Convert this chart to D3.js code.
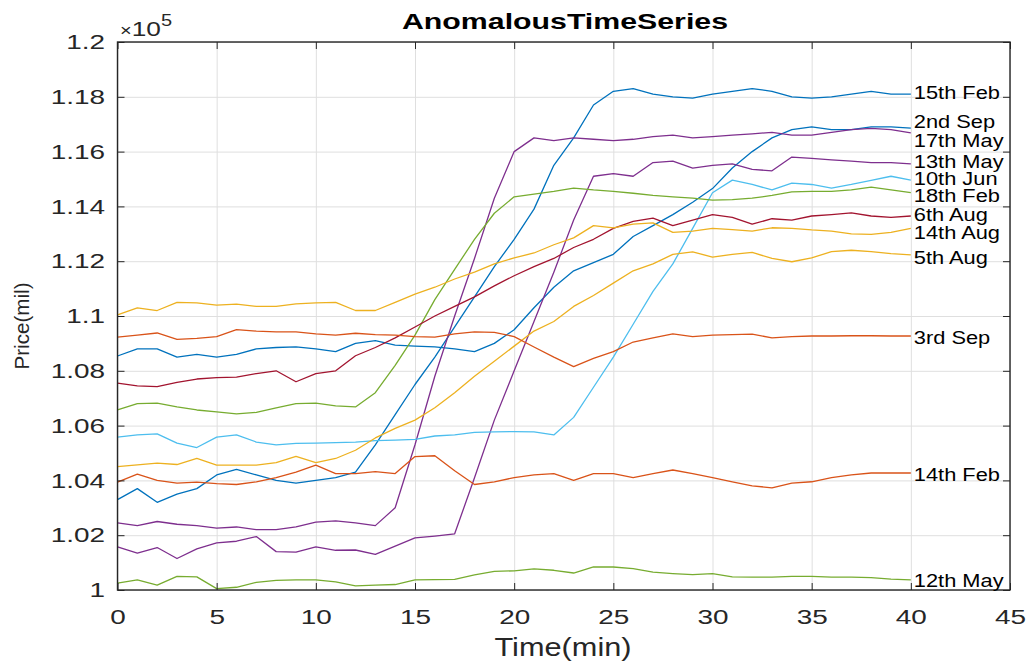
<!DOCTYPE html>
<html>
<head>
<meta charset="utf-8">
<script src="https://d3js.org/d3.v7.min.js"></script>
<style>
  body { margin: 0; background: #fff; }
  text { font-family: "Liberation Sans", Arial, Helvetica, sans-serif; }
</style>
</head>
<body>
<svg class="chart"></svg>
<script>
// time axis (minutes), shared by every series
var time = [0,1,2,3,4,5,6,7,8,9,10,11,12,13,14,15,16,17,18,19,20,
            21,22,23,24,25,26,27,28,29,30,31,32,33,34,35,36,37,38,39,40];

// prices in units of 1e5
var feb15 = [1.033,1.037,1.032,1.035,1.037,1.042,1.044,1.042,1.040,1.039,1.040,1.041,1.043,1.053,1.064,1.075,1.085,1.096,1.107,1.118,1.128,1.139,1.155,1.165,1.177,1.182,1.183,1.181,1.180,1.1795,1.181,1.182,1.183,1.182,1.180,1.1795,1.180,1.181,1.182,1.181,1.181];
var sep2  = [1.0854,1.088,1.088,1.085,1.086,1.085,1.086,1.088,1.0885,1.0887,1.088,1.087,1.090,1.091,1.0894,1.089,1.0887,1.088,1.087,1.090,1.095,1.103,1.1105,1.1165,1.1195,1.1225,1.129,1.133,1.137,1.1415,1.1465,1.154,1.160,1.165,1.168,1.169,1.168,1.168,1.169,1.169,1.1686];
var may17 = [1.0245,1.0235,1.025,1.024,1.0235,1.0226,1.023,1.022,1.022,1.023,1.0248,1.0252,1.0245,1.0235,1.030,1.053,1.078,1.100,1.121,1.143,1.160,1.165,1.164,1.165,1.1645,1.164,1.1645,1.1655,1.166,1.165,1.1655,1.166,1.1665,1.167,1.166,1.166,1.167,1.168,1.1685,1.168,1.1668];
var may13 = [1.0157,1.0135,1.0155,1.0115,1.015,1.0172,1.0178,1.0195,1.014,1.0138,1.0157,1.0145,1.0146,1.013,1.016,1.019,1.0197,1.0205,1.041,1.062,1.080,1.098,1.116,1.135,1.151,1.152,1.151,1.156,1.1565,1.154,1.155,1.1555,1.1535,1.153,1.158,1.1575,1.157,1.1565,1.156,1.156,1.1555];
var jun10 = [1.0558,1.0566,1.057,1.0536,1.052,1.0558,1.0566,1.054,1.053,1.0535,1.0536,1.0538,1.054,1.0545,1.0547,1.055,1.0562,1.0566,1.0575,1.0577,1.0578,1.0577,1.0566,1.063,1.074,1.085,1.097,1.109,1.119,1.132,1.145,1.1496,1.148,1.146,1.1485,1.148,1.1467,1.148,1.1495,1.151,1.1496];
var feb18 = [1.0657,1.068,1.0682,1.0668,1.0657,1.065,1.0643,1.0648,1.0665,1.068,1.0682,1.0672,1.0668,1.072,1.082,1.093,1.106,1.117,1.128,1.1375,1.1435,1.1445,1.1455,1.1467,1.146,1.1455,1.1448,1.144,1.1435,1.143,1.1423,1.1425,1.143,1.144,1.1453,1.1455,1.1455,1.146,1.147,1.146,1.145];
var aug6  = [1.0755,1.0745,1.0742,1.0758,1.077,1.0775,1.0777,1.079,1.080,1.076,1.079,1.080,1.0855,1.0885,1.092,1.096,1.100,1.1035,1.107,1.111,1.1147,1.118,1.121,1.125,1.128,1.132,1.1345,1.1357,1.133,1.135,1.137,1.136,1.1335,1.1355,1.135,1.1365,1.137,1.1376,1.1365,1.136,1.1365];
var aug14 = [1.1004,1.103,1.102,1.105,1.1048,1.104,1.1043,1.1035,1.1035,1.1044,1.1048,1.105,1.102,1.102,1.105,1.108,1.1105,1.1135,1.116,1.119,1.1212,1.123,1.126,1.1285,1.133,1.1322,1.1335,1.134,1.1305,1.131,1.132,1.1315,1.131,1.1322,1.132,1.1314,1.131,1.130,1.1298,1.1305,1.132];
var aug5  = [1.045,1.0457,1.0463,1.0458,1.048,1.0456,1.0456,1.0456,1.0465,1.0488,1.0465,1.048,1.051,1.0555,1.059,1.062,1.0665,1.072,1.078,1.0835,1.089,1.0945,1.098,1.1035,1.1075,1.112,1.1165,1.119,1.1225,1.1234,1.1215,1.1225,1.1232,1.121,1.1198,1.1212,1.1235,1.124,1.1235,1.1228,1.1223];
var sep3  = [1.0923,1.093,1.0938,1.0915,1.0918,1.0925,1.095,1.0945,1.0942,1.0942,1.0935,1.093,1.0937,1.0932,1.093,1.0925,1.0923,1.0935,1.0942,1.094,1.0925,1.0887,1.085,1.0815,1.0845,1.087,1.0905,1.092,1.0935,1.0925,1.093,1.0932,1.0934,1.092,1.0925,1.0927,1.0927,1.0928,1.0928,1.0927,1.0927];
var feb14 = [1.0394,1.0423,1.040,1.039,1.0394,1.0388,1.0385,1.0395,1.041,1.043,1.0456,1.0425,1.0425,1.0432,1.0425,1.0487,1.049,1.0435,1.0385,1.0395,1.041,1.042,1.0425,1.040,1.0425,1.0425,1.041,1.0425,1.0438,1.0425,1.041,1.0395,1.038,1.0373,1.039,1.0395,1.041,1.042,1.0427,1.0427,1.0427];
var may12 = [1.0025,1.0037,1.0018,1.005,1.0048,1.0005,1.001,1.0028,1.0035,1.0037,1.0037,1.003,1.0015,1.0018,1.002,1.0037,1.0038,1.0039,1.0055,1.0068,1.007,1.0077,1.0072,1.0062,1.0084,1.0084,1.0078,1.0065,1.006,1.0056,1.006,1.0048,1.0047,1.0047,1.005,1.005,1.0047,1.0047,1.0045,1.004,1.0037];

var seriesNames = ["15th Feb","2nd Sep","17th May","13th May","10th Jun","18th Feb",
                   "6th Aug","14th Aug","5th Aug","3rd Sep","14th Feb","12th May"];
var seriesValues = [feb15, sep2, may17, may13, jun10, feb18, aug6, aug14, aug5, sep3, feb14, may12];
// where each name tag sits (price units, at t = 40)
var labelAt = [1.1814,1.1710,1.1642,1.1562,1.1502,1.1438,1.1369,1.1305,1.1215,1.0923,1.042,1.0036];

var xTicks = [0,5,10,15,20,25,30,35,40,45];
var yTicks = [1,1.02,1.04,1.06,1.08,1.1,1.12,1.14,1.16,1.18,1.2];
var yTickLabels = ["1","1.02","1.04","1.06","1.08","1.1","1.12","1.14","1.16","1.18","1.2"];

// matlab default colour order
var colors = ["#0072BD","#0072BD","#7E2F8E","#7E2F8E","#4DBEEE","#77AC30",
              "#A2142F","#EDB120","#EDB120","#D95319","#D95319","#77AC30"];

var svgWidth = 1029, svgHeight = 664,
    plotLeft = 117.5, plotRight = 1010, plotTop = 42, plotBottom = 590;

var svg = d3.select(".chart")
    .attr("width", svgWidth)
    .attr("height", svgHeight);

var xScale = d3.scaleLinear().domain([0, 45]).range([plotLeft, plotRight]),
    yScale = d3.scaleLinear().domain([1, 1.2]).range([plotBottom, plotTop]);

var axisColor = "#262626", tick = 7, sx = 1.33;

// grid
svg.append("g")
    .attr("transform", "translate(0," + plotBottom + ")")
    .call(d3.axisBottom(xScale).tickValues(xTicks).tickSize(-(plotBottom - plotTop)).tickFormat(""))
    .call(g => g.select(".domain").remove())
    .selectAll("line").attr("stroke", "#dfdfdf").attr("stroke-width", 1);
svg.append("g")
    .attr("transform", "translate(" + plotLeft + ",0)")
    .call(d3.axisLeft(yScale).tickValues(yTicks).tickSize(-(plotRight - plotLeft)).tickFormat(""))
    .call(g => g.select(".domain").remove())
    .selectAll("line").attr("stroke", "#dfdfdf").attr("stroke-width", 1);

// lines
svg.append("clipPath").attr("id", "plot")
    .append("rect").attr("x", plotLeft).attr("y", plotTop)
    .attr("width", plotRight - plotLeft).attr("height", plotBottom - plotTop);

var line = d3.line()
    .x((d, i) => xScale(time[i]))
    .y(d => yScale(d));

svg.append("g").attr("clip-path", "url(#plot)")
    .selectAll("path")
    .data(seriesValues).enter().append("path")
        .attr("d", line)
        .attr("fill", "none")
        .attr("stroke", (d, i) => colors[i])
        .attr("stroke-width", 1.3)
        .attr("stroke-linejoin", "round");

// axes with inward ticks on all four sides
var xAxis = svg.append("g")
    .attr("class", "axis")
    .attr("transform", "translate(0," + plotBottom + ")")
    .call(d3.axisBottom(xScale).tickValues(xTicks).tickSizeInner(-tick).tickSizeOuter(0).tickPadding(19));
var yAxis = svg.append("g")
    .attr("class", "axis")
    .attr("transform", "translate(" + plotLeft + ",0)")
    .call(d3.axisLeft(yScale).tickValues(yTicks).tickSizeInner(-tick).tickSizeOuter(0)
        .tickFormat((d, i) => yTickLabels[i]));
svg.append("g")
    .attr("class", "axis")
    .attr("transform", "translate(0," + plotTop + ")")
    .call(d3.axisTop(xScale).tickValues(xTicks).tickSizeInner(-tick).tickSizeOuter(0).tickFormat(""));
svg.append("g")
    .attr("class", "axis")
    .attr("transform", "translate(" + plotRight + ",0)")
    .call(d3.axisRight(yScale).tickValues(yTicks).tickSizeInner(-tick).tickSizeOuter(0).tickFormat(""));

svg.selectAll(".domain").remove();
svg.selectAll(".axis .tick line").attr("stroke", axisColor);
svg.selectAll(".axis").attr("font-family", null);

xAxis.selectAll("text")
    .attr("font-size", 21).attr("fill", axisColor)
    .attr("transform", "scale(" + sx + ",1)");
yAxis.selectAll("text")
    .attr("font-size", 21).attr("fill", axisColor)
    .attr("x", -12.5 / sx)
    .attr("transform", "scale(" + sx + ",1)");

// box
svg.append("rect")
    .attr("x", plotLeft).attr("y", plotTop)
    .attr("width", plotRight - plotLeft).attr("height", plotBottom - plotTop)
    .attr("fill", "none").attr("stroke", axisColor).attr("stroke-width", 1.4);

// series name tags
svg.append("g").selectAll("text")
    .data(seriesNames).enter().append("text")
        .attr("transform", (d, i) => "translate(" + (xScale(40) + 3) + "," + yScale(labelAt[i]) + ") scale(1.18,1)")
        .attr("dy", "0.35em")
        .attr("font-size", 18.5)
        .attr("fill", "#000")
        .text(d => d);

// exponent
var ex = svg.append("text")
    .attr("transform", "translate(120,36) scale(1.25,1)")
    .attr("fill", axisColor);
ex.append("tspan").attr("font-size", 16).text("×");
ex.append("tspan").attr("font-size", 21).text("10");
ex.append("tspan").attr("font-size", 16).attr("dy", -10).text("5");

// title and axis labels
svg.append("text")
    .attr("x", 565).attr("y", 29)
    .attr("text-anchor", "middle")
    .attr("font-size", 22).attr("font-weight", "bold")
    .attr("textLength", 326).attr("lengthAdjust", "spacingAndGlyphs")
    .text("AnomalousTimeSeries");

svg.append("text")
    .attr("x", 563).attr("y", 656)
    .attr("text-anchor", "middle")
    .attr("font-size", 25).attr("fill", axisColor)
    .attr("textLength", 137).attr("lengthAdjust", "spacingAndGlyphs")
    .text("Time(min)");

svg.append("text")
    .attr("transform", "translate(29,326) rotate(-90)")
    .attr("text-anchor", "middle")
    .attr("font-size", 20).attr("fill", axisColor)
    .attr("textLength", 87).attr("lengthAdjust", "spacingAndGlyphs")
    .text("Price(mil)");
</script>
</body>
</html>
